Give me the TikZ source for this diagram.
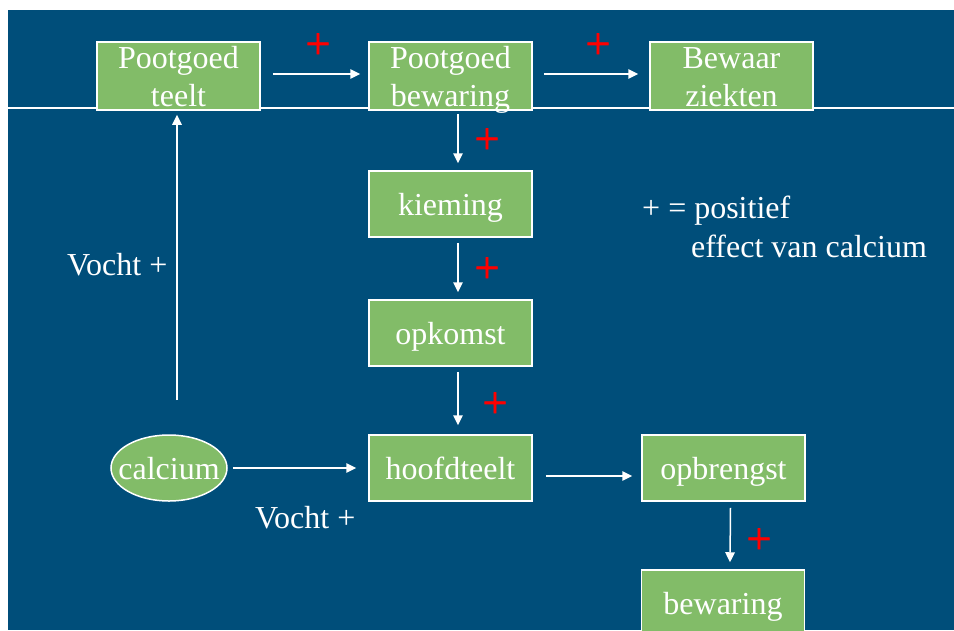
\documentclass[tikz,border=0pt]{standalone}
\usepackage{fontspec}
\setmainfont{Liberation Serif}
\newfontfamily\plusfont[FakeBold=1.6]{Liberation Serif}
\usetikzlibrary{arrows.meta,shapes.geometric}
\definecolor{bgblue}{HTML}{004E7A}
\definecolor{boxgreen}{HTML}{82BC68}
\definecolor{plusred}{HTML}{FF0000}
\begin{document}
\begin{tikzpicture}[x=1pt,y=-1pt,
  box/.style={draw=white, line width=1.5pt, fill=boxgreen, text=white,
    minimum width=163pt, minimum height=66pt, inner sep=0pt,
    font=\fontsize{32}{38}\selectfont, text height=26pt, text depth=4pt},
  boxtwo/.style={box, align=center, text height=62pt, text depth=2pt, minimum height=68pt},
  calcnode/.style={ellipse, draw=white, line width=1.5pt, fill=boxgreen, text=white,
    minimum width=116pt, minimum height=66pt, inner sep=0pt,
    font=\fontsize{32}{38}\selectfont, text height=26pt, text depth=4pt},
  arr/.style={draw=white, line width=1.5pt, -{Triangle[length=10pt,width=9.5pt]}},
  lbl/.style={text=white, inner sep=0pt, font=\fontsize{32}{38}\selectfont},
  plussign/.style={text=plusred, inner sep=0pt, yshift=-3pt, font=\plusfont\fontsize{44}{44}\selectfont}
]
\clip (0,0) rectangle (954,630);
\fill[white] (0,0) rectangle (954,630);
\fill[bgblue] (8,10) rectangle (954,630);
\draw[white, line width=1.5pt] (8,108) -- (954,108);

\node[boxtwo] (teelt) at (178.5,76) {Pootgoed\\teelt};
\node[boxtwo] (bew) at (450.5,76) {Pootgoed\\bewaring};
\node[boxtwo] (ziek) at (731.5,76) {Bewaar\\ziekten};
\node[box] (kiem) at (450.5,204) {kieming};
\node[box] (opk) at (450.5,333) {opkomst};
\node[box] (hoofd) at (450.5,468) {hoofdteelt};
\node[box] (opbr) at (723.5,468) {opbrengst};
\node[box] (bewar) at (723,603) {bewaring};
\node[calcnode] (calc) at (169,468) {\makebox[0pt]{calcium}};

\draw[arr] ([shift={(12pt,2pt)}]teelt.east) -- ([shift={(-8pt,2pt)}]bew.west);
\draw[arr] ([shift={(11pt,2pt)}]bew.east) -- ([shift={(-11pt,2pt)}]ziek.west);
\draw[arr] ([shift={(7.5pt,-3pt)}]bew.south) -- ([shift={(7.5pt,7pt)}]kiem.north);
\draw[arr] ([shift={(7.5pt,-5pt)}]kiem.south) -- ([shift={(7.5pt,7pt)}]opk.north);
\draw[arr] ([shift={(7.5pt,-5pt)}]opk.south) -- ([shift={(7.5pt,9pt)}]hoofd.north);
\draw[arr] ([shift={(13pt,-8pt)}]hoofd.east) -- ([shift={(-9pt,-8pt)}]opbr.west);
\draw[arr] ([xshift=5pt]calc.east) -- ([xshift=-12pt]hoofd.west);
\draw[arr] ([shift={(7pt,-6pt)}]opbr.south) -- ([shift={(7pt,7pt)}]bewar.north);
\coordinate (vstart) at (177,400);
\draw[arr] (vstart) -- ([yshift=-4pt]vstart |- teelt.south);

\node[plussign] (p1) at (318,43) {+};
\node[plussign] (p2) at (598,43) {+};
\node[plussign] (p3) at (487,138) {+};
\node[plussign] (p4) at (487,267) {+};
\node[plussign] (p5) at (495,402) {+};
\node[plussign] (p6) at (759,538) {+};

\node[lbl, anchor=base west] (v1) at (67,275) {Vocht +};
\node[lbl, anchor=base west] (v2) at (255,528) {Vocht +};
\node[lbl, anchor=base west] (leg1) at (642,218) {+ = positief};
\node[lbl, anchor=base west] (leg2) at (691,257) {effect van calcium};
\end{tikzpicture}
\end{document}
